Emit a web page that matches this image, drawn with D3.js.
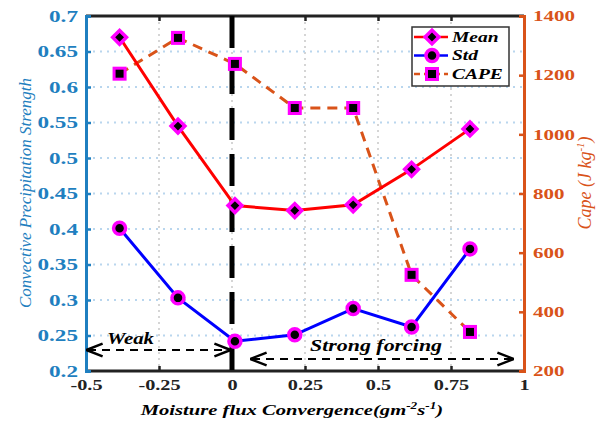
<!DOCTYPE html>
<html>
<head>
<meta charset="utf-8">
<script src="https://cdn.jsdelivr.net/npm/d3@7"></script>
<style>
body { margin: 0; background: #fff; }
</style>
</head>
<body>
<svg id="chart" width="610" height="423"></svg>
<script>
// data
var xBins = [-0.385, -0.185, 0.01, 0.215, 0.415, 0.615, 0.815];
var meanVals = [0.670, 0.545, 0.433, 0.426, 0.434, 0.484, 0.541];
var stdVals = [0.401, 0.303, 0.242, 0.251, 0.288, 0.262, 0.372];
var capeVals = [1205, 1326, 1238, 1089, 1089, 525, 332];
var xTicks = [-0.5, -0.25, 0, 0.25, 0.5, 0.75, 1];
var yTicks = [0.2, 0.25, 0.3, 0.35, 0.4, 0.45, 0.5, 0.55, 0.6, 0.65, 0.7];
var capeTicks = [200, 400, 600, 800, 1000, 1200, 1400];

var FONT = "Liberation Serif";
var blueAx = "#1f7fc0", orangeAx = "#d95319", mag = "#ff00ff";
var L = 86, R = 524, T = 16, B = 371;
var svg = d3.select("#chart");

var x = d3.scaleLinear().domain([-0.5, 1]).range([L, R]);
var y = d3.scaleLinear().domain([0.2, 0.7]).range([B, T]);
var y2 = d3.scaleLinear().domain([200, 1400]).range([B, T]);

// the original figure is stretched sideways, so widen the text the same way
function stretch(sel, sx) {
  sel.each(function () {
    var t = d3.select(this);
    var ax = +t.attr("x") || 0;
    var base = t.attr("transform") || "";
    t.attr("transform", base + " translate(" + ax + ",0) scale(" + sx + ",1) translate(" + (-ax) + ",0)");
  });
  return sel;
}

// grid
svg.append("g").selectAll("line").data(xTicks.slice(1, -1)).enter().append("line")
  .attr("x1", d => x(d)).attr("x2", d => x(d)).attr("y1", T).attr("y2", B)
  .attr("stroke", "#c8c8c8").attr("stroke-width", 1.5).attr("stroke-dasharray", "2,4");
svg.append("g").selectAll("line").data(yTicks.slice(1, -1)).enter().append("line")
  .attr("x1", L).attr("x2", R).attr("y1", d => y(d)).attr("y2", d => y(d))
  .attr("stroke", "#b9d6ee").attr("stroke-width", 2).attr("stroke-dasharray", "2,5");

// axes
var axB = d3.axisBottom(x).tickValues(xTicks).tickSize(-5).tickPadding(8).tickFormat(d => d);
var axT = d3.axisTop(x).tickValues(xTicks).tickSize(-5).tickFormat("");
var axL = d3.axisLeft(y).tickValues(yTicks).tickSize(-5).tickPadding(8).tickFormat(d => d);
var axR = d3.axisRight(y2).tickValues(capeTicks).tickSize(-5).tickPadding(9).tickFormat(d3.format("d"));

function styleAxis(g, col, size, sx) {
  g.select(".domain").attr("stroke", col).attr("stroke-width", 3);
  g.selectAll(".tick line").attr("stroke", col).attr("stroke-width", 2.5);
  var tx = g.selectAll(".tick text").attr("fill", col).style("font-family", FONT)
    .style("font-size", size + "px").style("font-weight", "bold");
  stretch(tx, sx);
}
var gT = svg.append("g").attr("transform", "translate(0," + T + ")").call(axT);
styleAxis(gT, "#222", 15, 1);
var gB = svg.append("g").attr("transform", "translate(0," + B + ")").call(axB);
styleAxis(gB, "#222", 15, 1.35);
var gL = svg.append("g").attr("transform", "translate(" + L + ",0)").call(axL);
styleAxis(gL, blueAx, 16, 1.45);
var gR = svg.append("g").attr("transform", "translate(" + R + ",0)").call(axR);
styleAxis(gR, orangeAx, 15, 1.4);
gB.select(".domain").attr("d", "M" + L + ",0H" + R);
gT.select(".domain").attr("d", "M" + L + ",0H" + R);

// vertical dashed divider at zero
svg.append("line").attr("x1", x(0)).attr("x2", x(0)).attr("y1", T).attr("y2", B)
  .attr("stroke", "#000").attr("stroke-width", 5).attr("stroke-dasharray", "32,14");

// lines
var meanLine = d3.line().x((d, i) => x(xBins[i])).y(d => y(d));
var capeLine = d3.line().x((d, i) => x(xBins[i])).y(d => y2(d));
svg.append("path").datum(capeVals).attr("d", capeLine).attr("fill", "none")
  .attr("stroke", orangeAx).attr("stroke-width", 3).attr("stroke-dasharray", "10,7");
svg.append("path").datum(meanVals).attr("d", meanLine).attr("fill", "none")
  .attr("stroke", "#ff0000").attr("stroke-width", 3);
svg.append("path").datum(stdVals).attr("d", meanLine).attr("fill", "none")
  .attr("stroke", "#0000ff").attr("stroke-width", 3);

function diamond(g, cx, cy) {
  g.append("path").attr("d", d3.symbol().type(d3.symbolSquare).size(95)())
    .attr("transform", "translate(" + cx + "," + cy + ") rotate(45)")
    .attr("fill", "#000").attr("stroke", mag).attr("stroke-width", 3.5);
}
function circ(g, cx, cy) {
  g.append("circle").attr("cx", cx).attr("cy", cy).attr("r", 6)
    .attr("fill", "#000").attr("stroke", mag).attr("stroke-width", 3.5);
}
function sq(g, cx, cy) {
  g.append("rect").attr("x", cx - 5.5).attr("y", cy - 5.5).attr("width", 11).attr("height", 11)
    .attr("fill", "#000").attr("stroke", mag).attr("stroke-width", 3);
}
var mk = svg.append("g");
capeVals.forEach((d, i) => sq(mk, x(xBins[i]), y2(d)));
meanVals.forEach((d, i) => diamond(mk, x(xBins[i]), y(d)));
stdVals.forEach((d, i) => circ(mk, x(xBins[i]), y(d)));

// annotations
var defs = svg.append("defs");
defs.append("marker").attr("id", "ah").attr("viewBox", "0 0 10 10").attr("refX", 9).attr("refY", 5)
  .attr("markerWidth", 9).attr("markerHeight", 9).attr("orient", "auto-start-reverse")
  .append("path").attr("d", "M0,1 L10,5 L0,9").attr("fill", "none").attr("stroke", "#000").attr("stroke-width", 1.5);
function arrow(x1, x2, yy) {
  svg.append("line").attr("x1", x1).attr("x2", x2).attr("y1", yy).attr("y2", yy)
    .attr("stroke", "#000").attr("stroke-width", 1.8).attr("stroke-dasharray", "8,6")
    .attr("marker-start", "url(#ah)").attr("marker-end", "url(#ah)");
}
function label(sel, size, weight) {
  return sel.style("font-family", FONT).style("font-weight", weight || "bold")
    .style("font-style", "italic").style("font-size", size + "px");
}
arrow(L + 2, x(0) - 3, 350);
arrow(252, 512, 359);
stretch(label(svg.append("text"), 16).attr("x", 107).attr("y", 344).text("Weak"), 1.3);
stretch(label(svg.append("text"), 16).attr("x", 310).attr("y", 351).text("Strong forcing"), 1.37);

// legend
var lg = svg.append("g").attr("transform", "translate(412,27)");
lg.append("rect").attr("width", 97).attr("height", 59).attr("fill", "#fff").attr("stroke", "#333").attr("stroke-width", 1.5);
var legItems = [
  { name: "Mean", col: "#ff0000", dash: null, f: diamond },
  { name: "Std", col: "#0000ff", dash: null, f: circ },
  { name: "CAPE", col: orangeAx, dash: "6,4", f: sq }
];
legItems.forEach(function (it, i) {
  var yy = 10 + i * 18.5;
  lg.append("line").attr("x1", 2).attr("x2", 36).attr("y1", yy).attr("y2", yy)
    .attr("stroke", it.col).attr("stroke-width", 2.5).attr("stroke-dasharray", it.dash);
  it.f(lg, 20, yy);
  stretch(label(lg.append("text"), 15).attr("x", 40).attr("y", yy + 5).text(it.name), 1.3);
});

// axis titles
label(svg.append("text"), 17, "normal").attr("transform", "translate(31,193) rotate(-90)")
  .attr("text-anchor", "middle").attr("fill", blueAx).text("Convective Precipitation Strength");
var rt = label(svg.append("text"), 18, "normal").attr("transform", "translate(591,183) rotate(-90)")
  .attr("text-anchor", "middle").attr("fill", orangeAx);
rt.append("tspan").text("Cape (J kg");
rt.append("tspan").attr("dy", -7).style("font-size", "11px").text("-1");
rt.append("tspan").attr("dy", 7).text(")");
var xt = label(svg.append("text"), 15.5).attr("x", 292).attr("y", 415).attr("text-anchor", "middle");
xt.append("tspan").text("Moisture flux Convergence(gm");
xt.append("tspan").attr("dy", -6).style("font-size", "10px").text("-2");
xt.append("tspan").attr("dy", 6).text("s");
xt.append("tspan").attr("dy", -6).style("font-size", "10px").text("-1");
xt.append("tspan").attr("dy", 6).text(")");
stretch(xt, 1.33);
</script>
</body>
</html>
